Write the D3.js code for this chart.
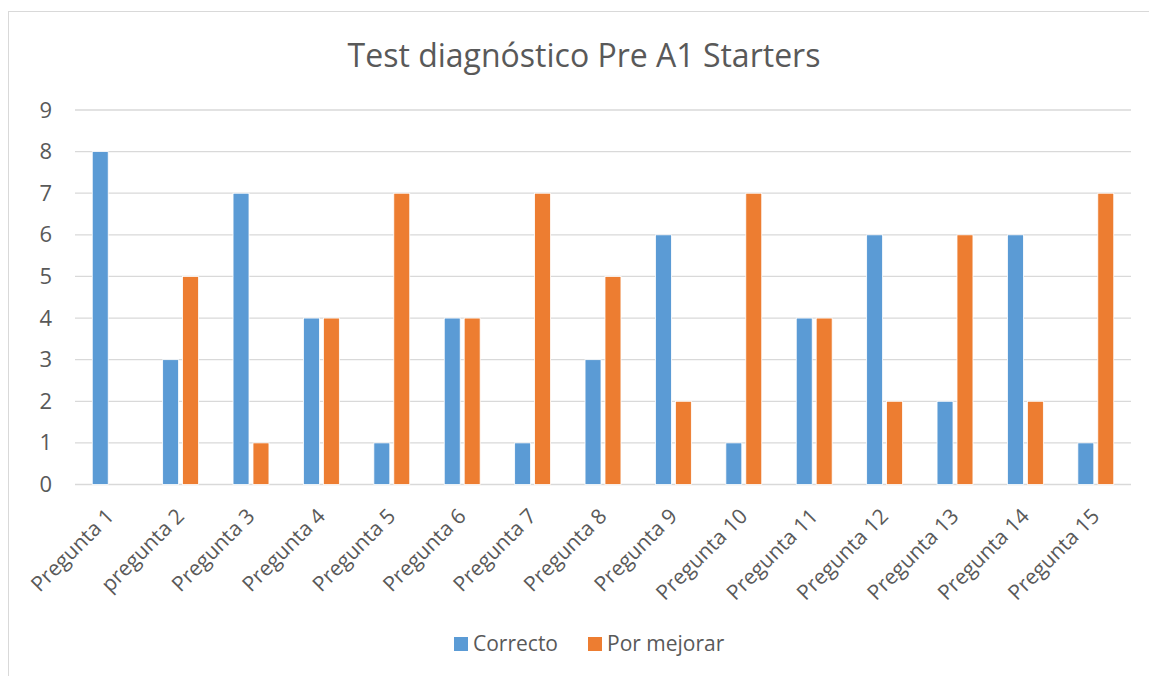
<!DOCTYPE html>
<html>
<head>
<meta charset="utf-8">
<script src="https://cdn.jsdelivr.net/npm/d3@7"></script>
<style>
  body { margin: 0; background: #fff; }
  svg { display: block; font-family: "Open Sans", "Noto Sans", sans-serif; }
</style>
</head>
<body>
<div id="chart"></div>
<script>
// --- chart data ---
const CATEGORIES = [
  "Pregunta 1", "pregunta 2", "Pregunta 3", "Pregunta 4", "Pregunta 5",
  "Pregunta 6", "Pregunta 7", "Pregunta 8", "Pregunta 9", "Pregunta 10",
  "Pregunta 11", "Pregunta 12", "Pregunta 13", "Pregunta 14", "Pregunta 15"
];
const SERIES = ["Correcto", "Por mejorar"];
const CORRECTO    = [8, 3, 7, 4, 1, 4, 1, 3, 6, 1, 4, 6, 2, 6, 1];
const POR_MEJORAR = [0, 5, 1, 4, 7, 4, 7, 5, 2, 7, 4, 2, 6, 2, 7];
const Y_TICKS = [0, 1, 2, 3, 4, 5, 6, 7, 8, 9];
const TITLE = "Test diagnóstico Pre A1 Starters";

const COLORS = { "Correcto": "#5b9bd5", "Por mejorar": "#ed7d31" };

const W = 1149, H = 676;
const plot = { left: 75, right: 1131, top: 110, bottom: 484.5 };
const LABEL_FONT = "\"Open Sans\", sans-serif";

const svg = d3.select("#chart").append("svg")
  .attr("width", W).attr("height", H);

// chart border (only left/top visible in the crop)
svg.append("rect")
  .attr("x", 8.5).attr("y", 11.5)
  .attr("width", W + 20).attr("height", H + 20)
  .attr("fill", "none").attr("stroke", "#d9d9d9");

// title
svg.append("text")
  .attr("x", 584).attr("y", 67)
  .attr("text-anchor", "middle")
  .attr("font-size", 32)
  .attr("fill", "#595959")
  .text(TITLE);

// scales
const x0 = d3.scaleBand()
  .domain(CATEGORIES)
  .range([plot.left, plot.right])
  .paddingInner(0.49)
  .paddingOuter(0.245);

const x1 = d3.scaleBand()
  .domain(SERIES)
  .range([0, x0.bandwidth()])
  .paddingInner(0.2);

const y = d3.scaleLinear()
  .domain([0, 9])
  .range([plot.bottom, plot.top]);

// gridlines
svg.append("g")
  .selectAll("line")
  .data(Y_TICKS)
  .join("line")
  .attr("x1", plot.left).attr("x2", plot.right)
  .attr("y1", d => y(d)).attr("y2", d => y(d))
  .attr("stroke", "#d9d9d9").attr("stroke-width", 1.3);

// y axis labels
const yAxis = svg.append("g")
  .attr("transform", `translate(${plot.left},0)`)
  .call(d3.axisLeft(y).tickValues(Y_TICKS).tickSize(0).tickPadding(23));
yAxis.select(".domain").remove();
yAxis.selectAll("text")
  .attr("font-size", 22)
  .attr("font-family", LABEL_FONT)
  .attr("fill", "#595959");

// bars
const rows = CATEGORIES.map((c, i) => ({
  cat: c,
  vals: [
    { key: "Correcto", value: CORRECTO[i] },
    { key: "Por mejorar", value: POR_MEJORAR[i] }
  ]
}));

const groups = svg.append("g")
  .selectAll("g")
  .data(rows)
  .join("g")
  .attr("transform", d => `translate(${x0(d.cat)},0)`);

groups.selectAll("rect")
  .data(d => d.vals.filter(v => v.value > 0))
  .join("rect")
  .attr("x", d => x1(d.key))
  .attr("y", d => y(d.value))
  .attr("width", x1.bandwidth())
  .attr("height", d => y(0) - y(d.value))
  .attr("fill", d => COLORS[d.key])
  .attr("stroke", "#fff").attr("stroke-width", 0.8);

// x axis labels (rotated)
const xAxis = svg.append("g")
  .attr("transform", `translate(0,${plot.bottom})`)
  .call(d3.axisBottom(x0).tickSize(0).tickPadding(0));
xAxis.select(".domain").remove();
xAxis.selectAll("text")
  .attr("font-size", 21)
  .attr("font-family", LABEL_FONT)
  .attr("fill", "#595959")
  .attr("text-anchor", "end")
  .attr("dy", null)
  .attr("transform", "translate(5,33) rotate(-45)");

// legend
const legend = svg.append("g");
const legendItems = [
  { key: "Correcto", x: 454 },
  { key: "Por mejorar", x: 588 }
];
legendItems.forEach(item => {
  legend.append("rect")
    .attr("x", item.x).attr("y", 637)
    .attr("width", 14).attr("height", 14)
    .attr("fill", COLORS[item.key]);
  legend.append("text")
    .attr("x", item.x + 19).attr("y", 651)
    .attr("font-size", 21)
    .attr("fill", "#595959")
    .text(item.key);
});
</script>
</body>
</html>
